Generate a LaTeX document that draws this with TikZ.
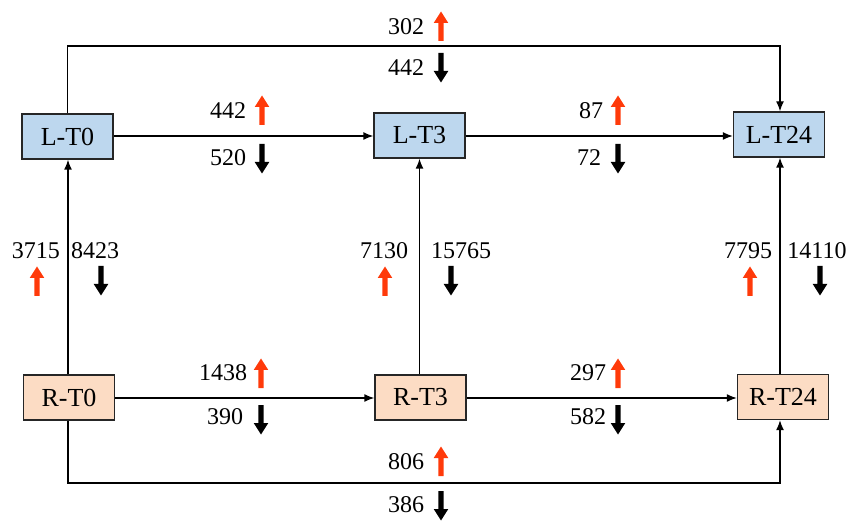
\documentclass[tikz,border=0pt]{standalone}
\usepackage{fontspec}
\setmainfont{Liberation Serif}
\usetikzlibrary{arrows.meta}
\definecolor{boxblue}{HTML}{BDD7EE}
\definecolor{boxpeach}{HTML}{FCDCC4}
\definecolor{uprise}{HTML}{FF3A0A}
\tikzset{
  state/.style={draw=black!85, line width=1.4pt, minimum width=91pt, minimum height=45pt,
    inner sep=0pt, font=\fontsize{26}{29}\selectfont},
  lbox/.style={state, fill=boxblue},
  rbox/.style={state, fill=boxpeach},
  flow/.style={line width=1.4pt, -{Latex[length=10pt,width=8pt]}},
  num/.style={inner sep=0pt, font=\fontsize{24}{27}\selectfont},
  uparrow/.pic={\fill[uprise] (-2.7,15) -- (-2.7,-3) -- (-7.3,-3) -- (0,-14.5) -- (7.3,-3) -- (2.7,-3) -- (2.7,15) -- cycle;},
  downarrow/.pic={\fill[black] (-2.7,-15) -- (-2.7,3) -- (-7.3,3) -- (0,14.5) -- (7.3,3) -- (2.7,3) -- (2.7,-15) -- cycle;},
}
\begin{document}
\begin{tikzpicture}[x=1pt, y=-1pt]
\useasboundingbox (0,0) rectangle (849,521);

% state boxes
\node[lbox] (lt0)  at (67.5,136.5) {L-T0};
\node[lbox] (lt3)  at (419.5,135.5) {L-T3};
\node[lbox] (lt24) at (779,134.5) {L-T24};
\node[rbox] (rt0)  at (69,397.5) {R-T0};
\node[rbox] (rt3)  at (420.5,397.5) {R-T3};
\node[rbox] (rt24) at (783,397) {R-T24};

% helper points for the long bypass connectors
\coordinate (topl) at (67.5,46);
\coordinate (topr) at (780,46);
\coordinate (botl) at (68,483);
\coordinate (botr) at (780,483);

% horizontal transitions
\draw[flow] (lt0.east |- 0,136) -- (lt3.west |- 0,136);
\draw[flow] (lt3.east |- 0,136) -- (lt24.west |- 0,136);
\draw[flow] (rt0.east |- 0,398) -- (rt3.west |- 0,398);
\draw[flow] (rt3.east |- 0,398) -- (rt24.west |- 0,398);

% vertical transitions
\draw[flow] (rt0.north -| 68,0) -- (lt0.south -| 68,0);
\draw[flow] (rt3.north -| 419.5,0) -- (lt3.south -| 419.5,0);
\draw[flow] (rt24.north -| 780,0) -- (lt24.south -| 780,0);

% bypass connectors
\draw[flow] (lt0.north -| topl) -- (topl) -- (topr) -- (lt24.north -| topr);
\draw[flow] (rt0.south -| botl) -- (botl) -- (botr) -- (rt24.south -| botr);

% counts: top bypass
\node[num] (n302) at (406,27) {302};  \pic at (441,26) {uparrow};
\node[num] (n442a) at (406,68) {442}; \pic at (441,68) {downarrow};
% counts: L-T0 -> L-T3
\node[num] (n442b) at (228,111) {442}; \pic at (262,110) {uparrow};
\node[num] (n520) at (228,158) {520}; \pic at (262,159) {downarrow};
% counts: L-T3 -> L-T24
\node[num] (n87) at (591,111) {87};   \pic at (618,110) {uparrow};
\node[num] (n72) at (589,158) {72};   \pic at (618,159) {downarrow};
% counts: vertical transitions
\node[num] (n3715) at (36,251) {3715};   \pic at (37,281) {uparrow};
\node[num] (n8423) at (95,251) {8423};   \pic at (101,281) {downarrow};
\node[num] (n7130) at (384,251) {7130};  \pic at (385,281) {uparrow};
\node[num] (n15765) at (461,251) {15765};\pic at (451,281) {downarrow};
\node[num] (n7795) at (748,251) {7795};  \pic at (750,281) {uparrow};
\node[num] (n14110) at (817,251) {14110};\pic at (820,281) {downarrow};
% counts: R-T0 -> R-T3
\node[num] (n1438) at (223,373) {1438}; \pic at (261,373) {uparrow};
\node[num] (n390) at (225,417) {390};   \pic at (261,420) {downarrow};
% counts: R-T3 -> R-T24
\node[num] (n297) at (588,373) {297};   \pic at (618,373) {uparrow};
\node[num] (n582) at (588,417) {582};   \pic at (618,420) {downarrow};
% counts: bottom bypass
\node[num] (n806) at (406,462) {806};   \pic at (441,461) {uparrow};
\node[num] (n386) at (406,505) {386};   \pic at (441,506) {downarrow};
\end{tikzpicture}
\end{document}
